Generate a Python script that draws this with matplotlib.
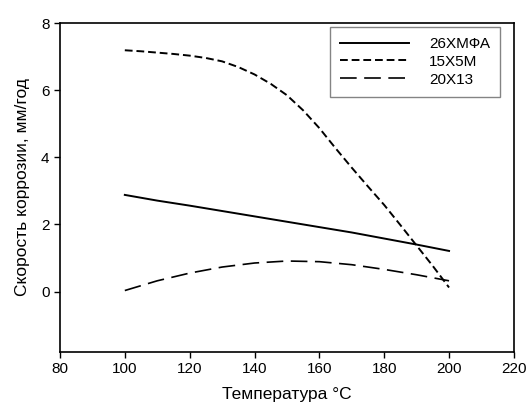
import matplotlib.pyplot as plt

plt.rcParams['font.family'] = ['Liberation Sans', 'DejaVu Sans']

# Data
temp = [100, 110, 120, 130, 140, 150, 160, 170, 180, 190, 200]
steel_26 = [2.88, 2.71, 2.56, 2.40, 2.24, 2.08, 1.92, 1.76, 1.58, 1.40, 1.21]
steel_20 = [0.03, 0.32, 0.55, 0.73, 0.85, 0.91, 0.89, 0.80, 0.66, 0.50, 0.32]

temp_15 = [100, 105, 110, 115, 120, 125, 130, 135, 140, 145, 150, 155,
           160, 165, 170, 175, 180, 185, 190, 195, 200]
steel_15 = [7.19, 7.16, 7.12, 7.08, 7.03, 6.96, 6.86, 6.69, 6.47, 6.19, 5.85, 5.40,
            4.87, 4.27, 3.69, 3.13, 2.58, 1.98, 1.37, 0.76, 0.12]

labels = ["26ХМФА", "15Х5М", "20Х13"]

fig = plt.figure(figsize=(5.26, 4.05), dpi=100)
ax = fig.add_axes([0.114, 0.131, 0.863, 0.812])

ax.plot(temp, steel_26, color="black", lw=1.4, label=labels[0])
ax.plot(temp_15, steel_15, color="black", lw=1.4, dashes=(4, 2), label=labels[1])
ax.plot(temp, steel_20, color="black", lw=1.2, dashes=(10, 4.5), label=labels[2])

ax.set_xlim(80, 220)
ax.set_ylim(-1.8, 8)
ax.set_xticks(range(80, 221, 20))
ax.set_yticks([0, 2, 4, 6, 8])
ax.tick_params(direction="out", length=4, width=1, labelsize=11)
for s in ax.spines.values():
    s.set_linewidth(1.2)

ax.set_xlabel("Температура °C", fontsize=12.5, labelpad=8)
ax.set_ylabel("Скорость коррозии, мм/год", fontsize=12.5, labelpad=8)

leg = ax.legend(loc="upper right", bbox_to_anchor=(0.969, 0.988), fancybox=False,
                fontsize=11, handlelength=4.5, handletextpad=1.3,
                borderpad=0.65, labelspacing=0.25, borderaxespad=0)
leg.get_frame().set_edgecolor("#666666")
leg.get_frame().set_linewidth(1.0)

fig.savefig("out.png", dpi=100)
